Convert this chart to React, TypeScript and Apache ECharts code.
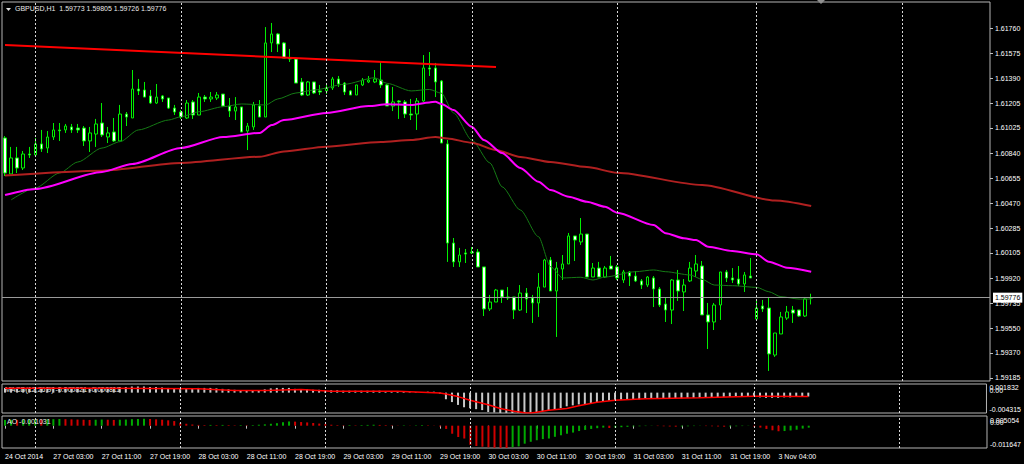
import React, { useEffect, useRef } from "react";
import * as echarts from "echarts";

// ---- price data (GBPUSD H1), one entry per bar ----
const openP = [
  1.60951, 1.60686, 1.60804, 1.6073, 1.60833, 1.60826, 1.60907, 1.60877, 1.60958, 1.6101,
  1.6101, 1.61032, 1.61024, 1.61024, 1.60929, 1.6098, 1.61061, 1.60958, 1.60995, 1.60929,
  1.61127, 1.61098, 1.61311, 1.61304, 1.6126, 1.61208, 1.6126, 1.61245, 1.61171, 1.61142,
  1.61098, 1.61216, 1.6112, 1.61252, 1.61238, 1.61245, 1.61274, 1.61186, 1.61149, 1.61179,
  1.61002, 1.61032, 1.61186, 1.61105, 1.6165, 1.61716, 1.6165, 1.61539, 1.61532, 1.61363,
  1.61267, 1.61363, 1.61297, 1.61297, 1.61319, 1.61385, 1.61355, 1.61297, 1.61267, 1.61341,
  1.61363, 1.61363, 1.61377, 1.61341, 1.61186, 1.61223, 1.61216, 1.61127, 1.61127, 1.61223,
  1.61466, 1.61466, 1.6137, 1.60907, 1.60178, 1.60039, 1.60105, 1.60105, 1.60112, 1.60002,
  1.59693, 1.59744, 1.59832, 1.59781, 1.59781, 1.59685, 1.5981, 1.59774, 1.59737, 1.59854,
  1.60053, 1.59825, 1.59987, 1.60024, 1.6023, 1.60186, 1.60244, 1.59928, 1.59994, 1.59928,
  1.60009, 1.60002, 1.59906, 1.59965, 1.59935, 1.59899, 1.59869, 1.59921, 1.5984, 1.59729,
  1.59685, 1.59906, 1.59818, 1.59899, 1.59972, 1.60009, 1.59649, 1.59597, 1.59722, 1.59965,
  1.59921, 1.59913, 1.59877, 1.59935, 1.59619, 1.59715, 1.597, 1.59354, 1.59509, 1.59626,
  1.59685, 1.59685, 1.59641, 1.59773,
];
const highP = [
  1.60965, 1.60885, 1.60885, 1.60855, 1.60885, 1.60951, 1.6101, 1.61002, 1.61061, 1.61061,
  1.61054, 1.61054, 1.61054, 1.61039, 1.61032, 1.61091, 1.61208, 1.61032, 1.61098, 1.61194,
  1.61142, 1.61451, 1.61385, 1.61363, 1.61304, 1.61348, 1.61267, 1.61245, 1.61194, 1.61157,
  1.6123, 1.6123, 1.61282, 1.61267, 1.61289, 1.61289, 1.61274, 1.61245, 1.61252, 1.61179,
  1.61061, 1.61216, 1.6123, 1.61767, 1.61797, 1.61723, 1.61657, 1.61606, 1.61539, 1.61392,
  1.6137, 1.61363, 1.61341, 1.61341, 1.614, 1.61407, 1.61363, 1.61304, 1.61341, 1.61392,
  1.61407, 1.61451, 1.6151, 1.61348, 1.61326, 1.6123, 1.6123, 1.61238, 1.61245, 1.61561,
  1.61583, 1.61503, 1.61377, 1.60936, 1.60215, 1.60142, 1.60134, 1.60149, 1.60134, 1.60002,
  1.59796, 1.5984, 1.59832, 1.59854, 1.59781, 1.59869, 1.59847, 1.59796, 1.59957, 1.60061,
  1.60075, 1.60039, 1.6009, 1.60252, 1.6023, 1.60362, 1.60244, 1.60031, 1.60039, 1.60009,
  1.60083, 1.60016, 1.5998, 1.59972, 1.59972, 1.59913, 1.59935, 1.59935, 1.59854, 1.59774,
  1.59913, 1.5998, 1.59913, 1.60039, 1.6009, 1.60046, 1.59737, 1.59737, 1.59965, 1.5998,
  1.59994, 1.60009, 1.59965, 1.60068, 1.59766, 1.59759, 1.59781, 1.59516, 1.59671, 1.59715,
  1.59715, 1.59685, 1.59781, 1.59805,
];
const lowP = [
  1.60671, 1.60686, 1.60693, 1.60715, 1.60804, 1.60811, 1.60848, 1.6084, 1.60936, 1.60929,
  1.60988, 1.60988, 1.60988, 1.60892, 1.60848, 1.60885, 1.60958, 1.60914, 1.60921, 1.60929,
  1.61039, 1.61098, 1.61267, 1.61252, 1.61201, 1.61201, 1.61216, 1.61164, 1.6112, 1.61091,
  1.61091, 1.61091, 1.6112, 1.61216, 1.61216, 1.6123, 1.61179, 1.61105, 1.61083, 1.60995,
  1.60862, 1.6101, 1.61105, 1.61105, 1.61583, 1.61583, 1.61539, 1.6151, 1.61355, 1.6126,
  1.6126, 1.61274, 1.61267, 1.61274, 1.61304, 1.61326, 1.61267, 1.61267, 1.61267, 1.61333,
  1.61355, 1.61355, 1.61319, 1.61186, 1.61149, 1.61091, 1.61098, 1.61083, 1.6101, 1.61216,
  1.61407, 1.61252, 1.60914, 1.60039, 1.60002, 1.60002, 1.60031, 1.60097, 1.60002, 1.59641,
  1.59678, 1.59744, 1.59737, 1.59759, 1.59619, 1.59678, 1.59663, 1.5959, 1.59634, 1.59854,
  1.59825, 1.59487, 1.59906, 1.60024, 1.60046, 1.60164, 1.59928, 1.59928, 1.59928, 1.59921,
  1.59987, 1.59906, 1.59884, 1.59862, 1.59891, 1.5984, 1.59854, 1.59707, 1.59707, 1.59597,
  1.59582, 1.59752, 1.59678, 1.59891, 1.59928, 1.59649, 1.59398, 1.59538, 1.59612, 1.59891,
  1.59884, 1.59862, 1.59818, 1.59921, 1.59612, 1.59671, 1.59237, 1.5934, 1.59509, 1.59612,
  1.5959, 1.59634, 1.59634, 1.59726,
];
const closeP = [
  1.60693, 1.60804, 1.6073, 1.60833, 1.60826, 1.60907, 1.6087, 1.60958, 1.6101, 1.61004,
  1.61039, 1.6101, 1.6101, 1.60929, 1.60988, 1.61054, 1.60973, 1.60988, 1.60929, 1.61127,
  1.61105, 1.61311, 1.61297, 1.61252, 1.61208, 1.61252, 1.61238, 1.61171, 1.61142, 1.61105,
  1.61208, 1.6112, 1.61252, 1.61238, 1.61252, 1.61267, 1.61186, 1.61149, 1.61179, 1.60995,
  1.61039, 1.61194, 1.61105, 1.6165, 1.61716, 1.61642, 1.61539, 1.61532, 1.61355, 1.61267,
  1.61363, 1.61282, 1.61289, 1.61319, 1.61385, 1.61348, 1.61289, 1.61267, 1.61341, 1.61377,
  1.61377, 1.61385, 1.61341, 1.61186, 1.61216, 1.61216, 1.61127, 1.6112, 1.61223, 1.61466,
  1.61458, 1.61363, 1.60914, 1.60178, 1.60039, 1.6009, 1.60097, 1.60112, 1.60002, 1.59693,
  1.59744, 1.59832, 1.59781, 1.59774, 1.59685, 1.5981, 1.59766, 1.59737, 1.59854, 1.60053,
  1.59825, 1.59994, 1.60024, 1.6023, 1.602, 1.60244, 1.59928, 1.59994, 1.59928, 1.59994,
  1.59987, 1.59921, 1.59965, 1.59935, 1.59899, 1.59869, 1.59928, 1.5984, 1.59722, 1.59685,
  1.59906, 1.59825, 1.59869, 1.59994, 1.60024, 1.59649, 1.59597, 1.59722, 1.59965, 1.59921,
  1.59906, 1.59877, 1.59943, 1.59921, 1.597, 1.59693, 1.59362, 1.59516, 1.59634, 1.59671,
  1.59663, 1.59641, 1.59766, 1.59776,
];

// ---- moving averages: [barIndex, price] ----
const ma21Pts = [
  [1, 1.60495], [5, 1.60583], [9, 1.60693], [12, 1.60774], [16, 1.60877], [19, 1.60924],
  [22, 1.6101], [27, 1.61083], [29, 1.61107], [32, 1.61144], [36, 1.61181], [39, 1.61201],
  [43, 1.61194], [45, 1.61238], [48, 1.61282], [51, 1.61304], [56, 1.61346], [61, 1.61394],
  [63, 1.61353], [67, 1.61297], [70, 1.61308], [72, 1.6128], [74, 1.61135], [77, 1.60936],
  [80, 1.60767], [82, 1.60592], [85, 1.60421], [88, 1.60225], [90, 1.60004], [92, 1.59921],
  [95, 1.59926], [97, 1.59906], [99, 1.59928], [104, 1.59967], [107, 1.5998], [109, 1.59967],
  [113, 1.59943], [115, 1.59911], [117, 1.59869], [120, 1.59864], [124, 1.59852],
  [126, 1.5982], [128, 1.59783], [131, 1.59766], [133, 1.59766],
];
const ma50Pts = [
  [0, 1.60531], [5, 1.60576], [16, 1.60701], [21, 1.6076], [29, 1.60877], [36, 1.60958],
  [42, 1.60988], [44, 1.61046], [46, 1.61083], [53, 1.61135], [60, 1.61186], [63, 1.61199],
  [67, 1.61194], [70, 1.61212], [71, 1.61218], [72, 1.61201], [74, 1.61157], [77, 1.61034],
  [79, 1.60936], [82, 1.6084], [85, 1.6073], [88, 1.60629], [90, 1.60568], [93, 1.60519],
  [96, 1.60482], [99, 1.60445], [101, 1.60401], [107, 1.60311], [109, 1.6025], [112, 1.60213],
  [114, 1.602], [116, 1.60151], [120, 1.60119], [124, 1.60095], [126, 1.60041], [129, 1.59997],
  [133, 1.59967],
];
const ma200Pts = [
  [0, 1.60675], [16, 1.6071], [29, 1.60767], [42, 1.60813], [46, 1.60851], [53, 1.60887],
  [62, 1.60921], [67, 1.60936], [71, 1.60958], [73, 1.60947], [77, 1.60916], [81, 1.60862],
  [85, 1.60811], [90, 1.60774], [96, 1.60737], [101, 1.60695], [115, 1.60605], [127, 1.6049],
  [133, 1.6045],
];
const trendPts = [[0, 1.61635], [81, 1.61473]];

// ---- MACD(12,26,9) ----
const macdMain = [
  0.001, 0.0011, 0.001, 0.0011, 0.001, 0.0011, 0.0011, 0.0012, 0.0012, 0.0012,
  0.0012, 0.0011, 0.0011, 0.001, 0.001, 0.0011, 0.0011, 0.0011, 0.0011, 0.0012,
  0.0012, 0.0013, 0.0013, 0.0013, 0.0012, 0.0012, 0.0011, 0.001, 0.0009, 0.0009,
  0.0009, 0.0009, 0.001, 0.001, 0.001, 0.0009, 0.0008, 0.0007, 0.0006, 0.0004,
  0.0004, 0.0004, 0.0004, 0.0007, 0.0009, 0.001, 0.001, 0.001, 0.0008, 0.0007,
  0.0007, 0.0006, 0.0006, 0.0005, 0.0005, 0.0005, 0.0004, 0.0004, 0.0004, 0.0004,
  0.0004, 0.0004, 0.0004, 0.0003, 0.0003, 0.0002, 0.0002, 0.0001, 0.0001, 0.0001,
  0.0002, 0.0002, -0.0002, -0.0014, -0.002, -0.0026, -0.0031, -0.0033, -0.0035, -0.0037,
  -0.0041, -0.0042, -0.0043, -0.0043, -0.0043, -0.0043, -0.0043, -0.0042, -0.0041, -0.0039,
  -0.0037, -0.0035, -0.0033, -0.0029, -0.0027, -0.0025, -0.0024, -0.0022, -0.002, -0.0018,
  -0.0017, -0.0016, -0.0015, -0.0015, -0.0014, -0.0014, -0.0013, -0.0013, -0.0013, -0.0013,
  -0.0012, -0.0012, -0.0012, -0.0011, -0.0011, -0.0011, -0.001, -0.001, -0.001, -0.0009,
  -0.0009, -0.0009, -0.0008, -0.0008, -0.0009, -0.001, -0.0011, -0.0011, -0.0011, -0.001,
  -0.001, -0.0009, -0.0009, -0.000821,
];
const macdSignalPts = [
  [0, 0.00091], [16, 0.00091], [32, 0.0008], [38, 0.00046], [43, 0.00046], [49, 0.00068],
  [54, 0.0003], [65, 0.0003], [72, -0.00006], [73, -0.0003], [75, -0.00084], [77, -0.0016],
  [80, -0.00258], [82, -0.00335], [84, -0.00387], [86, -0.00425], [87, -0.0043], [88, -0.00417],
  [90, -0.00372], [93, -0.00335], [95, -0.0028], [98, -0.00205], [101, -0.0016], [106, -0.0013],
  [115, -0.00107], [124, -0.00075], [133, -0.000811],
];

// ---- Awesome Oscillator ----
const aoValues = [
  0.003, 0.0031, 0.003, 0.0031, 0.0032, 0.0033, 0.0032, 0.0033, 0.0034, 0.0035,
  0.0034, 0.0033, 0.0032, 0.0031, 0.003, 0.0031, 0.0032, 0.0031, 0.003, 0.0031,
  0.0032, 0.0034, 0.0035, 0.0036, 0.0035, 0.0033, 0.0031, 0.0028, 0.0024, 0.0015,
  0.001, 0.0006, 0.0004, 0.0003, 0.0004, 0.0003, 0.0004, 0.0003, 0.0002, 0.0003,
  0.0002, 0.0003, 0.0005, 0.0007, 0.001, 0.0013, 0.0018, 0.0022, 0.0021, 0.0019,
  0.0017, 0.0014, 0.0011, 0.0008, 0.0005, 0.0003, 0.0002, 0.0003, 0.0002, 0.0003,
  0.0004, 0.0005, 0.0004, 0.0003, 0.0002, 0.0001, 0.0002, 0.0001, 0.0002, 0.0003,
  0.0002, 0.0001, -0.0004, -0.0017, -0.0042, -0.0059, -0.0067, -0.01, -0.0106, -0.011,
  -0.0113, -0.0115, -0.0116, -0.01164, -0.0113, -0.0108, -0.0094, -0.0084, -0.0076, -0.007,
  -0.0067, -0.0058, -0.005, -0.0042, -0.0036, -0.0028, -0.0022, -0.0017, -0.0013, -0.001,
  -0.0012, -0.001, -0.0008, -0.0006, -0.0004, -0.0003, -0.0002, -0.0001, -0.0002, -0.0003,
  -0.0004, -0.0005, -0.0004, -0.0003, -0.0002, -0.0001, -0.0002, -0.0003, -0.0004, -0.0005,
  -0.0004, -0.0003, -0.0002, -0.0001, -0.0005, -0.001, -0.0017, -0.0024, -0.0029, -0.0028,
  -0.0025, -0.0021, -0.0015, -0.001031,
];

// ---- axes ----
const slotCount = 163;
const tickIndex = [0, 8, 16, 24, 32, 40, 48, 56, 64, 72, 80, 88, 96, 104, 112, 120, 128];
const tickText = [
  "24 Oct 2014", "27 Oct 03:00", "27 Oct 11:00", "27 Oct 19:00", "28 Oct 03:00", "28 Oct 11:00",
  "28 Oct 19:00", "29 Oct 03:00", "29 Oct 11:00", "29 Oct 19:00", "30 Oct 03:00", "30 Oct 11:00",
  "30 Oct 19:00", "31 Oct 03:00", "31 Oct 11:00", "31 Oct 19:00", "3 Nov 04:00",
];
const separatorIdx = [5, 29, 53, 77, 101, 124, 148];
const priceTicks = [
  1.6176, 1.61575, 1.6139, 1.61205, 1.61025, 1.6084, 1.60655, 1.6047, 1.60285, 1.60105,
  1.5992, 1.59735, 1.5955, 1.5937, 1.59185,
];
const priceMin = 1.591629;
const priceMax = 1.619513;
const macdMax = 0.001832;
const macdMin = -0.004315;
const aoMax = 0.005054;
const aoMin = -0.011647;

const FONT = "Liberation Sans";
const GREEN = "#00f000";

export default function App() {
  const ref = useRef<HTMLDivElement>(null);

  useEffect(() => {
    if (!ref.current) return;
    const chart = echarts.init(ref.current, null, { renderer: "svg" });
    const cats = Array.from({ length: slotCount }, (_, i) => String(i));
    const candles = closeP.map((c, i) => [openP[i], c, lowP[i], highP[i]]);
    const last = closeP.length - 1;
    const aoData = aoValues.map((v, i) => ({
      value: v,
      itemStyle: { color: i > 0 && v < aoValues[i - 1] ? "#d00000" : "#00a800" },
    }));
    const sepLine = () => ({
      symbol: "none",
      silent: true,
      animation: false,
      label: { show: false },
      lineStyle: { color: "#d8d8d8", type: [2, 2], width: 1 },
      data: separatorIdx.map((i) => ({ xAxis: i })),
    });
    const near = (a: number, b: number) => Math.abs(a - b) < 1e-9;
    const baseLabel = { color: "#ffffff", fontSize: 7, fontFamily: FONT };

    const catAxis = (gridIndex: number, withLabels: boolean) => ({
      type: "category",
      gridIndex,
      data: cats,
      boundaryGap: true,
      axisLine: { show: false },
      axisTick: withLabels
        ? {
            show: true,
            length: 3,
            alignWithLabel: true,
            interval: (i: number) => tickIndex.includes(i),
            lineStyle: { color: "#c0c0c0" },
          }
        : { show: false },
      axisLabel: withLabels
        ? {
            show: true,
            ...baseLabel,
            align: "left",
            margin: 5,
            interval: (i: number) => tickIndex.includes(i),
            formatter: (_v: string, i: number) => {
              const k = tickIndex.indexOf(i);
              return k >= 0 ? tickText[k] : "";
            },
          }
        : { show: false },
      splitLine: { show: false },
    });

    // scale labels at the top and bottom of a sub-window (pushed inside the pane)
    const edgeAxis = (gridIndex: number, min: number, max: number, topPad: number, botPad: number) => ({
      type: "value",
      gridIndex,
      position: "right",
      min,
      max,
      axisLine: { show: false },
      splitLine: { show: false },
      axisTick: { show: false },
      axisLabel: {
        ...baseLabel,
        margin: 3,
        showMinLabel: true,
        showMaxLabel: true,
        customValues: [max, min],
        formatter: (v: number) => (near(v, max) ? `{t|${max.toFixed(6)}}` : `{b|${min.toFixed(6)}}`),
        rich: {
          t: { ...baseLabel, padding: [topPad, 0, 0, 0] },
          b: { ...baseLabel, padding: [0, 0, botPad, 0] },
        },
      },
    });
    // zero-level label of a sub-window
    const zeroAxis = (gridIndex: number, min: number, max: number, upPad: number) => ({
      type: "value",
      gridIndex,
      position: "right",
      min,
      max,
      axisLine: { show: false },
      splitLine: { show: false },
      axisTick: { show: false },
      axisLabel: {
        ...baseLabel,
        margin: 3,
        showMinLabel: true,
        showMaxLabel: true,
        customValues: [0],
        formatter: () => `{m|0.00}`,
        rich: { m: { ...baseLabel, padding: [0, 0, upPad, 0] } },
      },
    });

    const option: any = {
      animation: false,
      backgroundColor: "#000000",
      grid: [
        { left: 2, top: 2, width: 988, height: 379, show: true, borderColor: "#b4b4b4", borderWidth: 1, backgroundColor: "transparent" },
        { left: 2, top: 384, width: 988, height: 29, show: true, borderColor: "#b4b4b4", borderWidth: 1, backgroundColor: "transparent" },
        { left: 2, top: 416, width: 988, height: 32, show: true, borderColor: "#b4b4b4", borderWidth: 1, backgroundColor: "transparent" },
      ],
      xAxis: [catAxis(0, false), catAxis(1, false), catAxis(2, true)],
      yAxis: [
        {
          type: "value",
          gridIndex: 0,
          position: "right",
          min: priceMin,
          max: priceMax,
          axisLine: { show: false },
          splitLine: { show: false },
          axisTick: { show: true, length: 3, customValues: priceTicks, lineStyle: { color: "#c0c0c0" } },
          axisLabel: {
            ...baseLabel,
            margin: 5,
            customValues: priceTicks,
            formatter: (v: number) => v.toFixed(5),
          },
        },
        edgeAxis(1, macdMin, macdMax, 6, 8),
        edgeAxis(2, aoMin, aoMax, 8, 8),
        zeroAxis(1, macdMin, macdMax, 4),
        zeroAxis(2, aoMin, aoMax, 6),
      ],
      series: [
        {
          type: "candlestick",
          xAxisIndex: 0,
          yAxisIndex: 0,
          data: candles,
          barWidth: 3,
          itemStyle: {
            color: "#000000",
            color0: "#ffffff",
            borderColor: GREEN,
            borderColor0: GREEN,
            borderWidth: 1,
          },
          markLine: sepLine(),
          z: 2,
        },
        {
          type: "line",
          xAxisIndex: 0,
          yAxisIndex: 0,
          data: ma21Pts,
          symbol: "none",
          smooth: 0.25,
          smoothMonotone: "x",
          lineStyle: { color: "#157a15", width: 1 },
          z: 3,
        },
        {
          type: "line",
          xAxisIndex: 0,
          yAxisIndex: 0,
          data: ma200Pts,
          symbol: "none",
          smooth: 0.25,
          smoothMonotone: "x",
          lineStyle: { color: "#b02020", width: 2 },
          z: 3,
        },
        {
          type: "line",
          xAxisIndex: 0,
          yAxisIndex: 0,
          data: ma50Pts,
          symbol: "none",
          smooth: 0.25,
          smoothMonotone: "x",
          lineStyle: { color: "#ff00ff", width: 2 },
          z: 3,
        },
        {
          type: "line",
          xAxisIndex: 0,
          yAxisIndex: 0,
          data: trendPts,
          symbol: "none",
          lineStyle: { color: "#ff0000", width: 2 },
          z: 3,
          markLine: {
            symbol: "none",
            silent: true,
            animation: false,
            precision: 5,
            lineStyle: { color: "#9a9a9a", type: "solid", width: 1 },
            label: {
              show: true,
              position: "end",
              distance: 3,
              formatter: closeP[last].toFixed(5),
              backgroundColor: "#ffffff",
              color: "#000000",
              fontSize: 7,
              fontFamily: FONT,
              padding: [2, 2, 1, 2],
            },
            data: [{ yAxis: closeP[last] }],
          },
        },
        {
          type: "bar",
          xAxisIndex: 1,
          yAxisIndex: 1,
          data: macdMain,
          barWidth: 2,
          itemStyle: { color: "#c8c8c8" },
          markLine: sepLine(),
          z: 2,
        },
        {
          type: "line",
          xAxisIndex: 1,
          yAxisIndex: 1,
          data: macdSignalPts,
          symbol: "none",
          lineStyle: { color: "#ff0000", width: 1.5 },
          z: 3,
        },
        {
          type: "bar",
          xAxisIndex: 2,
          yAxisIndex: 2,
          data: aoData,
          barWidth: 2,
          markLine: sepLine(),
          z: 2,
        },
      ],
      graphic: [
        { type: "polygon", shape: { points: [[6, 8], [11, 8], [8.5, 11]] }, style: { fill: "#e0e0e0" }, z: 10 },
        {
          type: "text",
          left: 15,
          top: 5,
          style: {
            text: `GBPUSD,H1  ${openP[last].toFixed(5)} ${highP[last].toFixed(5)} ${lowP[last].toFixed(5)} ${closeP[last].toFixed(5)}`,
            fill: "#e8e8e8",
            fontSize: 7,
            fontFamily: FONT,
          },
          z: 10,
        },
        {
          type: "text",
          left: 5,
          top: 386,
          style: {
            text: `MACD(12,26,9) ${macdMain[last].toFixed(6)} ${macdSignalPts[macdSignalPts.length - 1][1].toFixed(6)}`,
            fill: "#e8e8e8",
            fontSize: 7,
            fontFamily: FONT,
          },
          z: 1,
        },
        {
          type: "text",
          left: 7,
          top: 418,
          style: { text: `AO ${aoValues[last].toFixed(6)}`, fill: "#e8e8e8", fontSize: 7, fontFamily: FONT },
          z: 10,
        },
        { type: "polygon", shape: { points: [[817, 0], [825, 0], [821, 4]] }, style: { fill: "#909090" }, z: 10 },
      ],
    };

    chart.setOption(option);
    return () => chart.dispose();
  }, []);

  return (
    <div
      ref={ref}
      style={{ position: "fixed", left: 0, top: 0, width: 1024, height: 464, background: "#000" }}
    />
  );
}
